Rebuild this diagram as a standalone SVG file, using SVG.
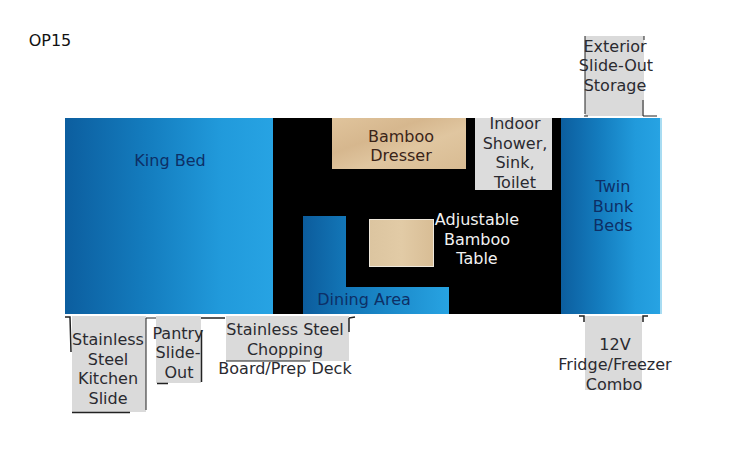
<svg xmlns="http://www.w3.org/2000/svg" width="731" height="469" viewBox="0 0 731 469">
<style>
text{font-family:"DejaVu Sans",Verdana,sans-serif;font-size:16px;text-anchor:middle;fill:#2a2a30}
.b{fill:#0d2f66}.w{fill:#f2f2f2}.d{fill:#3a2418}.g{fill:#dadada}.k{fill:none;stroke:#222;stroke-width:1.5}.t{stroke-width:1}
</style>
<defs>
<linearGradient id="blue"><stop offset="0" stop-color="#0c5e9f"/><stop offset=".4" stop-color="#147dbf"/><stop offset=".75" stop-color="#219adb"/><stop offset="1" stop-color="#27a3e3"/></linearGradient>
<linearGradient id="din" gradientUnits="userSpaceOnUse" x1="303" y1="0" x2="449" y2="0"><stop offset="0" stop-color="#0c5c9c"/><stop offset=".3" stop-color="#1377b8"/><stop offset="1" stop-color="#27a3e2"/></linearGradient>
<linearGradient id="wood" x1="0" y1="0" x2="1" y2="1"><stop offset="0" stop-color="#e0c49c"/><stop offset=".35" stop-color="#d6b78e"/><stop offset=".6" stop-color="#e0c6a0"/><stop offset="1" stop-color="#d8bb92"/></linearGradient>
<linearGradient id="wood2" x1="0" y1="0" x2="1" y2="0"><stop offset="0" stop-color="#dcc5a0"/><stop offset=".5" stop-color="#e2cba6"/><stop offset="1" stop-color="#d8bd95"/></linearGradient>
</defs>
<rect width="731" height="469" fill="#fff"/>
<text x="50" y="46" style="fill:#111">OP15</text>
<rect x="273" y="118" width="288" height="196" fill="#000"/>
<g id="king-bed"><rect x="65" y="118" width="208" height="196" fill="url(#blue)"/><text x="170" y="166" class="b">King Bed</text></g>
<g id="twin-bunk"><rect x="562" y="118" width="100" height="196" fill="#a8dcf2"/><rect x="561" y="118" width="99" height="196" fill="url(#blue)"/><text x="613" y="192" class="b">Twin</text><text x="613" y="212" class="b">Bunk</text><text x="613" y="231" class="b">Beds</text></g>
<g id="dresser"><rect x="332" y="118" width="134" height="51" fill="url(#wood)"/><text x="401" y="142" class="d">Bamboo</text><text x="401" y="161" class="d">Dresser</text></g>
<g id="shower"><rect x="475" y="118" width="77" height="72" fill="#dcdcdc"/><text x="515" y="129">Indoor</text><text x="515" y="149">Shower,</text><text x="515" y="168">Sink,</text><text x="515" y="188">Toilet</text></g>
<g id="dining"><path d="M303 216H346V287H449V314H303Z" fill="url(#din)"/><text x="364" y="305" class="b">Dining Area</text></g>
<g id="table"><rect x="369.500" y="219.500" width="64" height="47" fill="url(#wood2)" stroke="#eee8dc"/><text x="477" y="225" class="w">Adjustable</text><text x="477" y="245" class="w">Bamboo</text><text x="477" y="264" class="w">Table</text></g>
<g id="kitchen-slide"><rect x="72" y="316" width="74" height="96" class="g"/><path d="M65 317H70L71 352M72 412.500H130" class="k"/><path d="M146 318H156M146 318V410" class="k t"/><text x="108" y="345">Stainless</text><text x="108" y="365">Steel</text><text x="108" y="384">Kitchen</text><text x="108" y="404">Slide</text></g>
<g id="pantry"><rect x="156" y="316" width="45" height="67" class="g"/><path d="M157 383.500H168M201.500 330V382M201 318H225" class="k"/><text x="178" y="339">Pantry</text><text x="178" y="358">Slide-</text><text x="179" y="378">Out</text></g>
<g id="chopping"><rect x="226" y="316" width="123" height="45" class="g"/><path d="M226 361H310" class="k t"/><path d="M349 318L355 317M349 318V332" class="k"/><text x="285" y="335">Stainless Steel</text><text x="285" y="355">Chopping</text><text x="285" y="374">Board/Prep Deck</text></g>
<g id="exterior-storage"><rect x="585" y="36" width="59" height="80" class="g"/><path d="M585 36V114M584 116H588M644 36V40M643 100V116H657" class="k t"/><text x="615" y="52">Exterior</text><text x="616" y="71">Slide-Out</text><text x="615" y="91">Storage</text></g>
<g id="fridge"><rect x="585" y="316" width="57" height="74" class="g"/><path d="M579 316H584V322M648 316H643V322" class="k"/><text x="615" y="350">12V</text><text x="615" y="370">Fridge/Freezer</text><text x="614" y="390">Combo</text></g>
<g id="connectors"/>
</svg>
